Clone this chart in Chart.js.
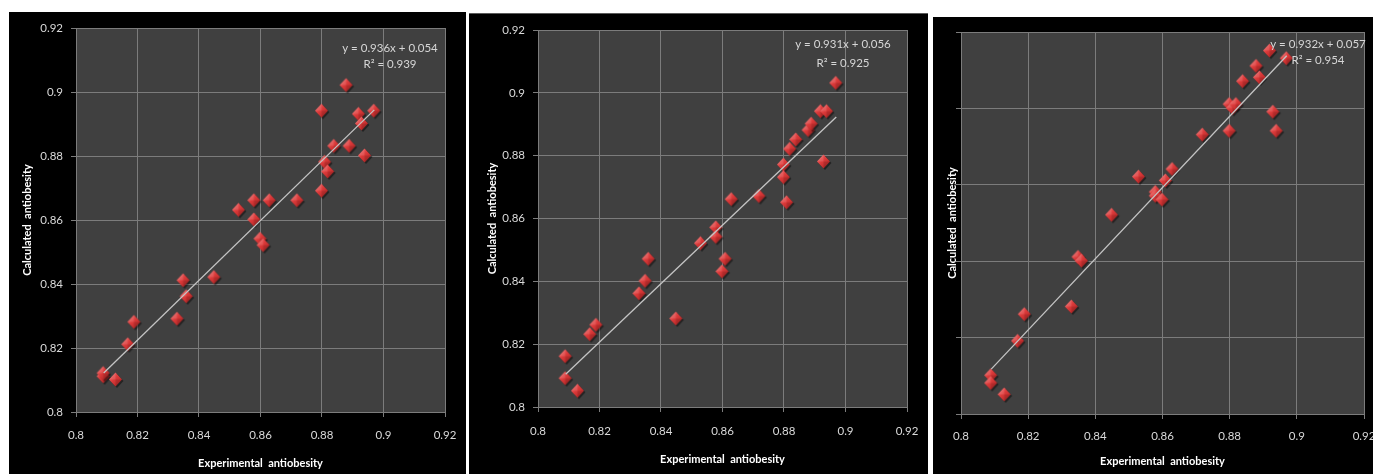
<!DOCTYPE html>
<html><head><meta charset="utf-8">
<script src="https://cdn.jsdelivr.net/npm/chart.js@4"></script>
<style>
html,body{margin:0;padding:0;background:#fff;width:1373px;height:474px;overflow:hidden;}
.panel{position:absolute;background:#000;overflow:hidden;}
canvas{display:block;}
</style></head><body>
<div class="panel" style="left:9px;top:12px;width:457px;height:462px"><canvas id="c1" width="457" height="462"></canvas></div>
<div class="panel" style="left:469px;top:13px;width:459px;height:461px;border-top:1px solid #5a5a5a;box-sizing:border-box"><canvas id="c2" width="459" height="460"></canvas></div>
<div class="panel" style="left:933px;top:17px;width:440px;height:457px"><canvas id="c3" width="440" height="457"></canvas></div>
<script>
// ---- data ----
const experimental = [0.809,0.809,0.813,0.817,0.819,0.833,0.835,0.836,0.845,0.853,0.858,0.858,0.860,0.861,0.863,0.872,0.880,0.880,0.881,0.882,0.884,0.888,0.889,0.892,0.893,0.894,0.897];
const calculated1 = [0.811,0.812,0.810,0.821,0.828,0.829,0.841,0.836,0.842,0.863,0.866,0.860,0.854,0.852,0.866,0.866,0.894,0.869,0.878,0.875,0.883,0.902,0.883,0.893,0.890,0.880,0.894];
const calculated2 = [0.816,0.809,0.805,0.823,0.826,0.836,0.840,0.847,0.828,0.852,0.857,0.854,0.843,0.847,0.866,0.867,0.877,0.873,0.865,0.882,0.885,0.888,0.890,0.894,0.878,0.894,0.903];
const calculated3 = [0.810,0.808,0.805,0.819,0.826,0.828,0.841,0.840,0.852,0.862,0.858,0.857,0.856,0.861,0.864,0.873,0.874,0.881,0.880,0.881,0.887,0.891,0.888,0.895,0.879,0.874,0.893];
const xTicks = [0.8,0.82,0.84,0.86,0.88,0.9,0.92];
const yTicks12 = [0.8,0.82,0.84,0.86,0.88,0.9,0.92];
const yTicks3 = [0.8,0.82,0.84,0.86,0.88,0.9];
const equations = ["y = 0.936x + 0.054","y = 0.931x + 0.056","y = 0.932x + 0.057"];
const rSquared = ["R\u00B2 = 0.939","R\u00B2 = 0.925","R\u00B2 = 0.954"];
const xTitle = "Experimental  antiobesity";
const yTitle = "Calculated  antiobesity";

// ---- helpers ----
const FONT = "Lato,'Open Sans',sans-serif";

function makeDiamond(){
  const c=document.createElement('canvas'); c.width=22; c.height=22;
  const g=c.getContext('2d');
  const cx=10.5, cy=10.5, hw=6.5, hh=7;
  function path(dx,dy){g.beginPath();g.moveTo(cx+dx,cy-hh+dy);g.lineTo(cx+hw+dx,cy+dy);g.lineTo(cx+dx,cy+hh+dy);g.lineTo(cx-hw+dx,cy+dy);g.closePath();}
  g.fillStyle='rgba(0,0,0,0.45)'; path(1.5,1.5); g.fill();
  const grad=g.createLinearGradient(cx-hw,cy-hh,cx+hw,cy+hh);
  grad.addColorStop(0,'#f07070'); grad.addColorStop(0.45,'#dc3a3a'); grad.addColorStop(1,'#a51f1f');
  g.fillStyle=grad; path(0,0); g.fill();
  g.fillStyle='rgba(255,255,255,0.12)';
  g.beginPath();g.moveTo(cx,cy-hh);g.lineTo(cx-hw,cy);g.lineTo(cx,cy);g.closePath();g.fill();
  g.fillStyle='rgba(0,0,0,0.12)';
  g.beginPath();g.moveTo(cx+hw,cy);g.lineTo(cx,cy+hh);g.lineTo(cx,cy);g.closePath();g.fill();
  return c;
}
const diamond = makeDiamond();

function fit(xs, ys){
  const n=xs.length; let sx=0,sy=0,sxx=0,sxy=0;
  for(let i=0;i<n;i++){sx+=xs[i];sy+=ys[i];sxx+=xs[i]*xs[i];sxy+=xs[i]*ys[i];}
  const b=(n*sxy-sx*sy)/(n*sxx-sx*sx); const a=(sy-b*sx)/n; return {a,b};
}

const bgPlugin = {
  id:'plotbg',
  beforeDraw(chart){
    const {ctx, chartArea:a} = chart;
    ctx.save(); ctx.fillStyle='#404040'; ctx.fillRect(a.left,a.top,a.right-a.left,a.bottom-a.top); ctx.restore();
  }
};
const eqPlugin = {
  id:'eqtext',
  afterDatasetsDraw(chart, args, opts){
    const {ctx, chartArea:a} = chart;
    ctx.save();
    ctx.fillStyle='#d6d6d6'; ctx.font="11.5px "+FONT; ctx.textAlign='center'; ctx.textBaseline='middle';
    ctx.fillText(opts.eq, a.right-opts.dx, a.top+opts.dy1);
    ctx.fillText(opts.r2, a.right-opts.dx, a.top+opts.dy2);
    ctx.restore();
  }
};

function build(id, ys, yTicks, L, idx){
  const pts = experimental.map((x,i)=>({x, y:ys[i]}));
  const {a,b} = fit(experimental, ys);
  const xmin=Math.min(...experimental), xmax=Math.max(...experimental);
  const trend=[{x:xmin,y:a+b*xmin},{x:xmax,y:a+b*xmax}];
  const gridColor='#7c7c7c';
  new Chart(document.getElementById(id), {
    type:'scatter',
    data:{datasets:[
      {type:'line', data:trend, borderColor:'#c4c4c4', borderWidth:1.3, pointRadius:0, fill:false, order:0},
      {data:pts, pointStyle:diamond, pointRadius:7, order:1}
    ]},
    options:{
      responsive:false, animation:false, devicePixelRatio:1,
      layout:{autoPadding:false, padding:{top:L.top, right:L.right, left:0, bottom:0}},
      plugins:{legend:{display:false}, tooltip:{enabled:false},
        eqtext:{eq:equations[idx], r2:rSquared[idx], dx:L.eqDx, dy1:L.eqDy1, dy2:L.eqDy2}},
      scales:{
        x:{type:'linear', min:0.8, max:0.92,
          afterBuildTicks:s=>{s.ticks=xTicks.map(v=>({value:v}));},
          afterFit:s=>{s.height=L.xH; s.paddingLeft=0; s.paddingRight=0;},
          grid:{color:gridColor, lineWidth:1, tickLength:5, tickColor:gridColor},
          border:{color:gridColor},
          ticks:{color:'#d9d9d9', padding:L.xTickPad, maxRotation:0, autoSkip:false,
            font:{family:FONT, size:11.5}, callback:v=>String(Number(v.toFixed(2)))},
          title:{display:true, text:xTitle, color:'#ffffff', font:{family:FONT, size:11, weight:'bold'}, padding:{top:0,bottom:L.xTitlePad}}
        },
        y:{type:'linear', min:yTicks[0], max:yTicks[yTicks.length-1],
          afterBuildTicks:s=>{s.ticks=yTicks.map(v=>({value:v}));},
          afterFit:s=>{s.width=L.yW; s.paddingTop=0; s.paddingBottom=0;},
          grid:{color:gridColor, lineWidth:1, tickLength:5, tickColor:gridColor},
          border:{color:gridColor},
          ticks:{color:'#d9d9d9', padding:L.yTickPad, autoSkip:false, display:L.yLabels,
            font:{family:FONT, size:11.5}, callback:v=>String(Number(v.toFixed(2)))},
          title:{display:true, text:yTitle, color:'#ffffff', font:{family:FONT, size:11, weight:'bold'}, padding:{top:L.yTitlePad,bottom:0}}
        }
      }
    },
    plugins:[bgPlugin, eqPlugin]
  });
}

build('c1', calculated1, yTicks12, {top:16, right:21, xH:62, yW:67, xTickPad:11, yTickPad:8, xTitlePad:4, yTitlePad:12, yLabels:true, eqDx:55, eqDy1:20, eqDy2:36}, 0);
build('c2', calculated2, yTicks12, {top:16, right:21, xH:67, yW:69, xTickPad:12, yTickPad:8, xTitlePad:8, yTitlePad:17, yLabels:true, eqDx:64, eqDy1:14, eqDy2:33}, 1);
build('c3', calculated3, yTicks3, {top:15, right:9, xH:60, yW:28, xTickPad:10, yTickPad:8, xTitlePad:6, yTitlePad:13, yLabels:false, eqDx:46, eqDy1:12, eqDy2:28}, 2);
</script>
</body></html>
